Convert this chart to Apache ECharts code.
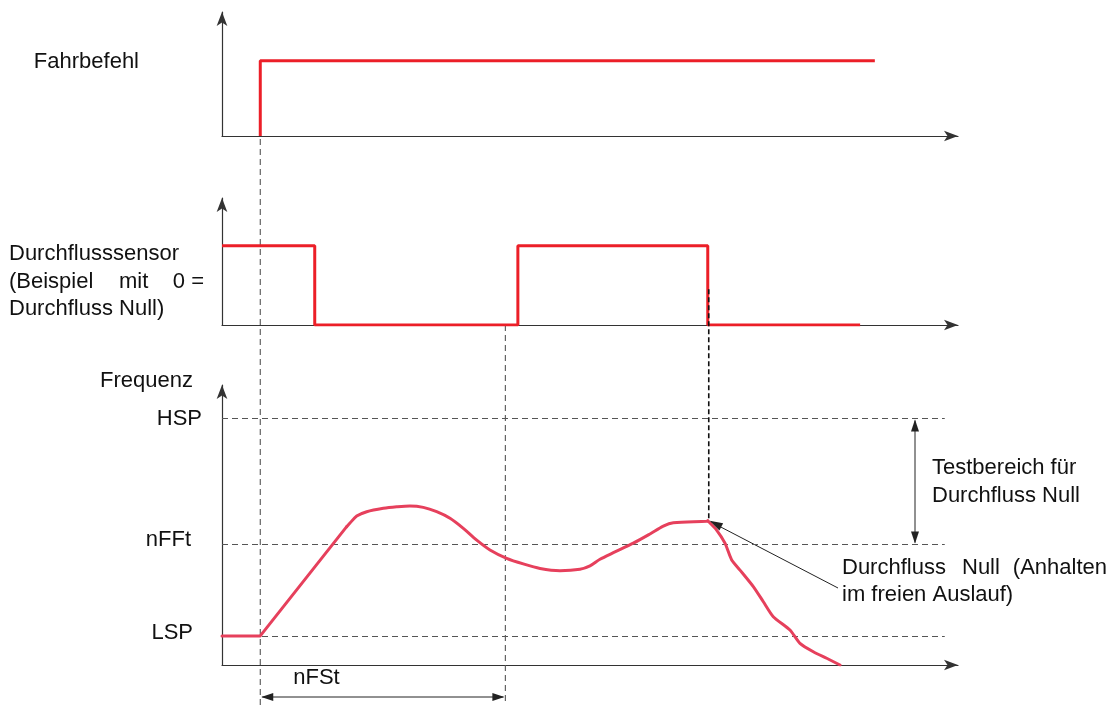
<!DOCTYPE html>
<html>
<head>
<meta charset="utf-8">
<script src="https://cdn.jsdelivr.net/npm/echarts@6/dist/echarts.min.js"></script>
<style>html,body{margin:0;padding:0;background:#fff;}#c{width:1111px;height:707px;}</style>
</head>
<body>
<div id="c"></div>
<script>
// ---- data ----
const cmdTime = [5.2, 5.2, 88.7];
const cmdLevel = [0, 1, 1];
const sensorTime = [0, 12.6, 12.6, 40.2, 40.2, 66.0, 66.0, 86.7];
const sensorLevel = [1, 1, 0, 0, 1, 1, 0, 0];
const rampTime = [0, 5.2, 16.94];
const rampValue = [10.4, 10.4, 49.4];
const freqTime = [16.94, 17.39, 18.30, 19.66, 21.92, 23.74, 25.54, 27.35, 29.17, 30.98, 32.79, 34.61, 36.41, 38.68, 40.94, 43.21, 45.92, 48.64, 50.0, 51.36, 53.17, 55.88, 58.15, 59.96, 61.32, 65.86, 66.0];
const freqValue = [49.4, 50.7, 53.2, 54.75, 55.96, 56.5, 56.8, 56.3, 54.75, 52.4, 48.8, 44.6, 41.1, 38.1, 36.1, 34.5, 33.7, 34.2, 35.4, 37.75, 40.1, 43.5, 46.8, 49.6, 50.8, 51.3, 51.5];
const decayTime = [66.0, 67.2, 68.34, 69.25, 70.38, 72.19, 73.55, 74.9, 77.17, 78.53, 80.34, 82.16, 83.97];
const decayValue = [51.5, 48.2, 43.5, 37.5, 33.9, 28.0, 22.6, 17.25, 12.5, 7.75, 4.75, 2.4, 0];
const levelNames = ['HSP', 'nFFt', 'LSP'];
const levelValues = [88, 43, 10.4];
const levelLineEnd = 98.2;
const runStartT = 5.2;     // Fahrbefehl
const nFStEndT = 38.5;     // end of nFSt
const zeroFlowT = 66.0;    // Durchfluss Null detected
const zeroFlowF = 51.5;

const FONT = '22px "Liberation Sans", Arial, sans-serif';
const TXT = '#111';
const RED = '#ec1f28';
const PINK = '#e6405c';

const chart = echarts.init(document.getElementById('c'), null, {renderer: 'canvas'});

function axisCommon(i, max) {
  return {
    type: 'value', gridIndex: i, min: 0, max: max,
    axisLine: {show: true, onZero: true, lineStyle: {color: '#333', width: 1.2}, symbol: ['none', 'arrow'], symbolSize: [8, 14]},
    axisTick: {show: false}, axisLabel: {show: false}, splitLine: {show: false}
  };
}
const zip = (a, b) => a.map((v, i) => [v, b[i]]);
const freqLine = (t, v, smooth) => ({type: 'line', xAxisIndex: 2, yAxisIndex: 2, data: zip(t, v), symbol: 'none', smooth: smooth,
     lineStyle: {color: PINK, width: 3, join: 'round', cap: 'round'}, z: 5});

const option = {
  animation: false,
  backgroundColor: '#fff',
  grid: [
    {left: 222, top: 12, width: 736, height: 124},
    {left: 222, top: 198, width: 736, height: 127},
    {left: 222, top: 385, width: 736, height: 280}
  ],
  xAxis: [axisCommon(0, 100), axisCommon(1, 100), axisCommon(2, 100)],
  yAxis: [axisCommon(0, 1.65), axisCommon(1, 1.6), axisCommon(2, 100)],
  series: [
    {type: 'line', xAxisIndex: 0, yAxisIndex: 0, data: zip(cmdTime, cmdLevel), symbol: 'none',
     lineStyle: {color: RED, width: 3}, z: 5},
    {type: 'line', xAxisIndex: 1, yAxisIndex: 1, data: zip(sensorTime, sensorLevel), symbol: 'none',
     lineStyle: {color: RED, width: 3}, z: 5},
    Object.assign(freqLine(rampTime, rampValue, false), {
     markLine: {
       silent: true, symbol: ['none', 'none'], animation: false,
       lineStyle: {color: '#555', type: [6, 4], width: 1.1},
       label: {show: false},
       data: levelValues.map(v => [{coord: [0, v]}, {coord: [levelLineEnd, v]}])
     }}),
    freqLine(freqTime, freqValue, 0.3),
    freqLine(decayTime, decayValue, 0.2)
  ]
};
chart.setOption(option);

function P(g, t, v) { return chart.convertToPixel({gridIndex: g}, [t, v]); }
function arrowHead(tx, ty, fx, fy, len, hw) {
  const dx = tx - fx, dy = ty - fy, L = Math.hypot(dx, dy);
  const ux = dx / L, uy = dy / L;
  const bx = tx - ux * len, by = ty - uy * len;
  return {type: 'polygon', shape: {points: [[tx, ty], [bx - uy * hw, by + ux * hw], [bx + uy * hw, by - ux * hw]]},
          style: {fill: '#222'}, z: 20};
}
function seg(x1, y1, x2, y2, style, z) {
  return {type: 'line', shape: {x1, y1, x2, y2}, style: Object.assign({stroke: '#555', lineWidth: 1.1}, style), z: z || 3};
}
function txt(text, x, y, align, extra) {
  return {type: 'text', x: x, y: y, z: 30,
    style: Object.assign({text: text, font: FONT, fill: TXT, textAlign: align || 'left', textVerticalAlign: 'middle'}, extra || {})};
}

const g = [];
// vertical guide lines
const xs = P(0, runStartT, 0);
g.push(seg(xs[0], xs[1] + 3, xs[0], 707, {lineDash: [6, 4]}));
const xe = P(1, nFStEndT, 0);
g.push(seg(xe[0], xe[1], xe[0], 705, {lineDash: [6, 4]}));
const zTop = P(1, zeroFlowT, 0.45), zBot = P(2, zeroFlowT, zeroFlowF);
g.push(seg(zTop[0] + 1, zTop[1], zBot[0] + 1, zBot[1], {lineDash: [5, 3], stroke: '#111', lineWidth: 1.6}, 10));

// nFSt dimension arrow
const yDim = 697;
g.push(seg(xs[0] + 2, yDim, xe[0] - 2, yDim, {stroke: '#222', lineWidth: 1}));
g.push(arrowHead(xs[0] + 1, yDim, xe[0], yDim, 12, 4));
g.push(arrowHead(xe[0] - 1, yDim, xs[0], yDim, 12, 4));
g.push(txt('nFSt', xs[0] + 33, 678));

// test range arrow (HSP..nFFt)
const hsp = P(2, 0, levelValues[0]), nff = P(2, 0, levelValues[1]), lsp = P(2, 0, levelValues[2]);
const xr = 915;
g.push(seg(xr, hsp[1] + 2, xr, nff[1] - 2, {stroke: '#222', lineWidth: 1}));
g.push(arrowHead(xr, hsp[1] + 1, xr, nff[1], 12, 4));
g.push(arrowHead(xr, nff[1] - 1, xr, hsp[1], 12, 4));

// leader arrow to zero-flow point
const pk = P(2, zeroFlowT, zeroFlowF);
const lx = 838, ly = 588;
g.push(seg(lx, ly, pk[0] + 3, pk[1] + 1, {stroke: '#222', lineWidth: 1}));
g.push(arrowHead(pk[0] + 2, pk[1], lx, ly, 13, 4));

// texts
g.push(txt('Fahrbefehl', 139, 62, 'right'));
g.push(txt('Durchflusssensor', 9, 254));
g.push(txt('(Beispiel', 9, 282));
g.push(txt('mit', 119, 282));
g.push(txt('0 =', 204, 282, 'right'));
g.push(txt('Durchfluss Null)', 9, 309));
g.push(txt('Frequenz', 100, 381));
g.push(txt(levelNames[0], 202, hsp[1], 'right'));
g.push(txt(levelNames[1], 191, nff[1] - 5, 'right'));
g.push(txt(levelNames[2], 193, lsp[1] - 3, 'right'));
g.push(txt('Testbereich für', 932, 468));
g.push(txt('Durchfluss Null', 932, 496));
g.push(txt('Durchfluss', 842, 568));
g.push(txt('Null', 962, 568));
g.push(txt('(Anhalten', 1107, 568, 'right'));
g.push(txt('im freien Auslauf)', 842, 595));

chart.setOption({graphic: {elements: g}});
</script>
</body>
</html>
